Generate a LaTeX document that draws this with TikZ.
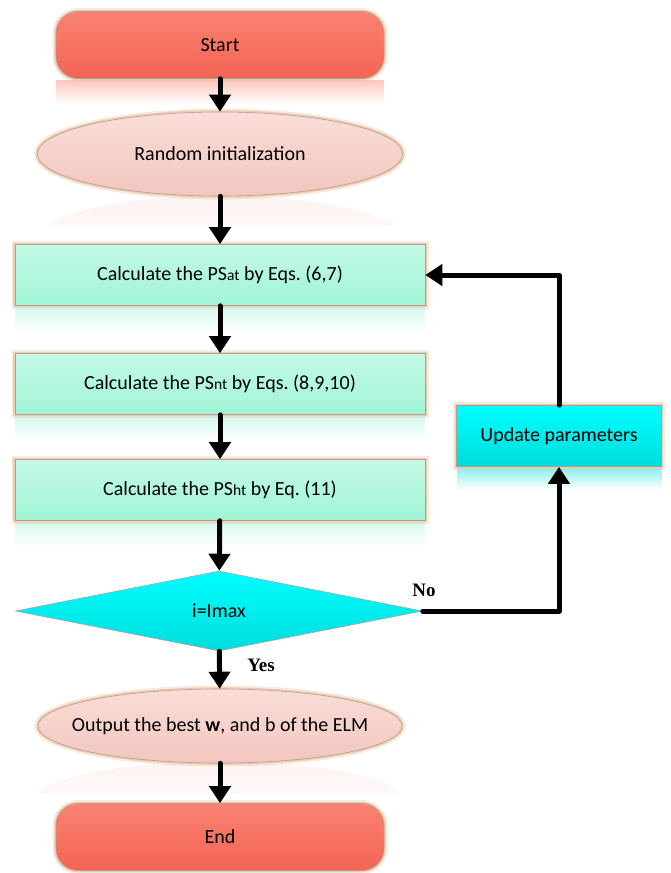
\documentclass[tikz,border=0pt]{standalone}
\usepackage{fontspec}
\setmainfont{Carlito}
\newfontfamily\timesf{Liberation Serif}
\usetikzlibrary{arrows.meta,shapes.geometric,fadings}
\frenchspacing
\definecolor{haloC}{HTML}{EBC4A4}
\definecolor{edgeC}{HTML}{B0A090}
\definecolor{redT}{HTML}{F98272}
\definecolor{redB}{HTML}{F46454}
\definecolor{pinkT}{HTML}{F9DDD8}
\definecolor{pinkB}{HTML}{F2C6BE}
\definecolor{grnT}{HTML}{C4F9E8}
\definecolor{grnB}{HTML}{A0F4D6}
\definecolor{cyT}{HTML}{00FFFF}
\definecolor{cyB}{HTML}{00DCDC}
\tikzfading[name=reflfade, top color=transparent!55, bottom color=transparent!100]
\tikzfading[name=reflfaint, top color=transparent!80, bottom color=transparent!100]
\newcommand{\sm}[1]{{\fontsize{15.5}{16}\selectfont #1}}
\begin{document}
\begin{tikzpicture}[x=1pt,y=-1pt,
  every node/.style={font=\fontsize{20}{23}\selectfont, text=black},
  glow/.style={preaction={draw=haloC,line width=7pt,opacity=0.35},
               preaction={draw=haloC,line width=3.5pt,opacity=0.8},
               draw=edgeC,line width=0.6pt},
  terminal/.style={glow,rectangle,rounded corners=22pt,top color=redT,bottom color=redB,
                   minimum width=328pt,minimum height=67pt,inner sep=0pt},
  oval/.style={glow,ellipse,top color=pinkT,bottom color=pinkB,inner sep=0pt},
  procbox/.style={glow,rectangle,top color=grnT,bottom color=grnB,
                  minimum width=410pt,minimum height=61pt,inner sep=0pt},
  updbox/.style={glow,rectangle,top color=cyT,bottom color=cyB,
                 minimum width=205pt,minimum height=61pt,inner sep=0pt},
  decision/.style={diamond,draw=gray!70,line width=0.6pt,top color=cyT,bottom color=cyB,
                   minimum width=407pt,minimum height=80pt,inner sep=0pt},
  arr/.style={-{Triangle[width=21pt,length=17pt]},line width=5pt,line join=round,line cap=round},
  lbl/.style={font=\timesf\bfseries\fontsize{19}{22}\selectfont}
]
\useasboundingbox (0,0) rectangle (671,873);

% reflections
\fill[redT,path fading=reflfade] (56,80) rectangle (384,104);
\begin{scope}
\clip (30,196) rectangle (410,224);
\fill[pinkB,path fading=reflfaint] (220,238) ellipse [x radius=182pt,y radius=42pt];
\end{scope}
\fill[grnB,path fading=reflfade] (15,307) rectangle (425,332);
\fill[grnB,path fading=reflfade] (15,416) rectangle (425,441);
\fill[grnB,path fading=reflfade] (15,522) rectangle (425,547);
\fill[cyB,path fading=reflfade] (457,468) rectangle (662,490);
\begin{scope}
\clip (30,762) rectangle (410,792);
\fill[pinkB,path fading=reflfaint] (220,798) ellipse [x radius=182pt,y radius=36pt];
\end{scope}

% nodes
\node[terminal] (start) at (220,45) {Start};
\node[oval,minimum width=365pt,minimum height=84pt] (rand) at (220,154) {\makebox[200pt]{Random initialization}};
\node[procbox] (c1) at (220,275) {Calculate the PS\sm{at} by Eqs. (6,7)};
\node[procbox] (c2) at (220,384) {Calculate the PS\sm{nt} by Eqs. (8,9,10)};
\node[procbox] (c3) at (220,490) {Calculate the PS\sm{ht} by Eq. (11)};
\node[decision] (dia) at (219,611) {i=Imax};
\node[oval,minimum width=364pt,minimum height=74pt] (out) at (220,726) {\makebox[240pt]{Output the best \textbf{w}, and b of the ELM}};
\node[terminal] (end) at (220,837) {End};
\node[updbox] (upd) at (559,436) {Update parameters};

% connectors
\draw[arr] (start) -- (rand);
\draw[arr] (rand) -- (c1);
\draw[arr] (c1) -- (c2);
\draw[arr] (c2) -- (c3);
\draw[arr] (c3) -- (dia);
\draw[arr] (dia) -- (out);
\draw[arr] (out) -- (end);
\draw[arr] (dia.east) -| (upd.south);
\draw[arr] (upd.north) |- (c1.east);

% labels
\node[lbl] (no) at (424,590) {No};
\node[lbl] (yes) at (261,665) {Yes};
\end{tikzpicture}
\end{document}
